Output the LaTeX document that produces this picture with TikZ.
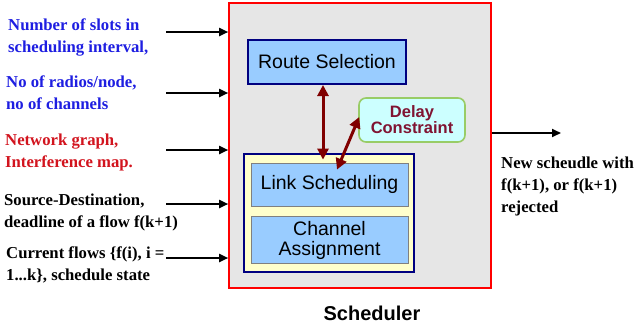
\documentclass[tikz,border=0pt]{standalone}
\usepackage{fontspec}
\setmainfont{Liberation Serif}
\setsansfont{Liberation Sans}
\usetikzlibrary{arrows.meta,calc}
\definecolor{txtblue}{RGB}{30,30,225}
\definecolor{txtred}{RGB}{210,20,30}
\definecolor{schedgray}{RGB}{230,230,230}
\definecolor{boxblue}{RGB}{153,204,255}
\definecolor{navy}{RGB}{0,0,128}
\definecolor{lyellow}{RGB}{255,255,204}
\definecolor{lcyan}{RGB}{204,255,255}
\definecolor{lgreen}{RGB}{153,204,102}
\definecolor{maroon}{RGB}{128,0,0}
\definecolor{dctext}{RGB}{128,20,50}
\tikzset{
  intext/.style={anchor=north west, align=left, inner sep=0pt, font=\bfseries\fontsize{16.7}{22}\selectfont},
  blockbox/.style={draw=navy, line width=2pt, fill=boxblue, inner sep=0pt, font=\sffamily\fontsize{19.5}{20}\selectfont, align=center},
  innerbox/.style={draw=gray, line width=0.8pt, fill=boxblue, inner sep=0pt, font=\sffamily\fontsize{19.5}{20}\selectfont, align=center},
  inarrow/.style={draw=black, line width=1.8pt, -{Triangle[length=9pt,width=8pt]}},
  darrow/.style={draw=maroon, line width=3pt, {Triangle[length=11pt,width=11pt]}-{Triangle[length=11pt,width=11pt]}}
}
\begin{document}
\begin{tikzpicture}[x=1pt,y=-1pt]
\useasboundingbox (0,0) rectangle (635,330);
% scheduler container
\node[draw=red, line width=1.6pt, fill=schedgray, minimum width=262pt, minimum height=285pt, inner sep=0pt] (sched) at (360,145.5) {};
\node[font=\sffamily\bfseries\fontsize{20}{22}\selectfont] (schedlbl) at (372,313) {Scheduler};
% blocks
\node[blockbox, minimum width=158pt, minimum height=44pt] (route) at (327,62) {Route Selection};
\node[draw=navy, line width=2pt, fill=lyellow, minimum width=170pt, minimum height=118pt, inner sep=0pt] (outer) at (329,213) {};
\node[innerbox, minimum width=157pt, minimum height=47pt] (ca) at (329.5,239.5) {};
\node[inner sep=0pt, font=\sffamily\fontsize{19.5}{20}\selectfont, align=center] (catext) at (329.5,240) {Channel\\Assignment};
\node[innerbox, minimum width=157pt, minimum height=43pt] (ls) at (329.5,184.5) {Link Scheduling};
\node[draw=lgreen, line width=1.6pt, fill=lcyan, rounded corners=7pt, minimum width=106pt, minimum height=44pt, inner sep=0pt, align=center, text=dctext, font=\sffamily\bfseries\fontsize{16.5}{16}\selectfont] (dc) at (412,120) {Delay\\Constraint};
% internal arrows
\draw[darrow] (route.south -| 323,0) -- ($(ls.north -| 323,0)+(0,-3)$);
\draw[darrow] ($(dc.west)+(1,-3)$) -- ($(ls.north)+(7.5,7)$);
% input texts
\node[intext, text=txtblue] (t1) at (8,19) {Number of slots in\\scheduling interval,};
\node[intext, text=txtblue] (t2) at (6,76) {No of radios/node,\\no of channels};
\node[intext, text=txtred] (t3) at (5,134) {Network graph,\\Interference map.};
\node[intext, text=black] (t4) at (4,194) {Source-Destination,\\deadline of a flow f(k+1)};
\node[intext, text=black] (t5) at (6,247) {Current flows \{f(i), i =\\1...k\}, schedule state};
% input arrows
\coordinate (a1) at (166,32);
\coordinate (a2) at (166,93);
\coordinate (a3) at (166,150);
\coordinate (a4) at (166,204);
\coordinate (a5) at (166,258);
\foreach \a in {a1,a2,a3,a4,a5}{\draw[inarrow] (\a) -- (\a -| sched.west);}
% output
\coordinate (o1) at (561,133);
\draw[inarrow] (o1 -| sched.east) -- (o1);
\node[intext, text=black] (out) at (501,157) {New scheudle with\\f(k+1), or f(k+1)\\rejected};
\end{tikzpicture}
\end{document}
